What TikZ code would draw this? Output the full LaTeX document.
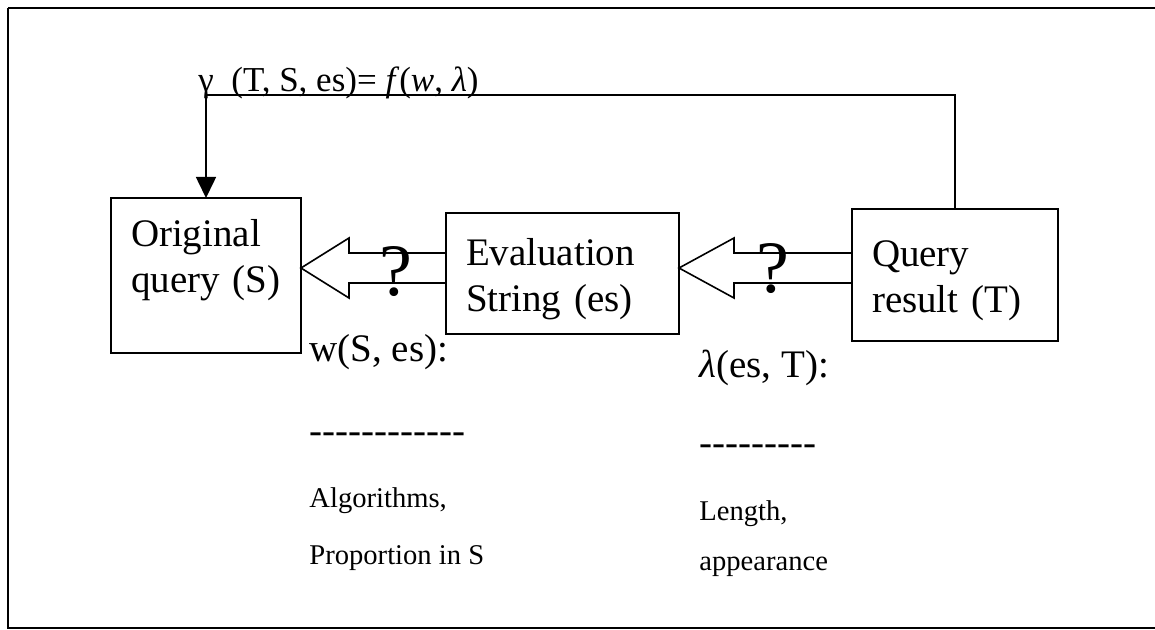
\documentclass[tikz,border=0pt]{standalone}
\usepackage{fontspec}
\setmainfont{Liberation Serif}
\usetikzlibrary{arrows.meta,calc}
\newcommand\dashrow[1]{\foreach\k in {1,...,#1}{\mbox{-}}}

\begin{document}
\begin{tikzpicture}[x=0.5pt,y=-0.5pt,
		box/.style={draw,line width=0.8pt,anchor=north west,align=left,inner xsep=10pt,inner ysep=0pt,outer sep=0pt,font=\fontsize{19.5}{23}\selectfont},
		hollow/.style={draw,line width=0.8pt,fill=white},
		qmark/.style={inner sep=0pt,font=\fontsize{37}{40}\selectfont},
		note/.style={anchor=base west,inner sep=0pt,font=\fontsize{19.5}{23}\selectfont},
		small/.style={anchor=base west,inner sep=0pt,font=\fontsize{14.3}{17}\selectfont}]
		\useasboundingbox (0,0) rectangle (1155,630);
		\draw[line width=1pt] (8,8) -- (1155,8);
		\draw[line width=1pt] (8,8) -- (8,628) -- (1155,628);
		
		\node[box,text width=75pt,text height=24.5pt,text depth=53pt] (orig) at (111,198) {Original\\query~(S)};
		\node[box,text width=96.5pt,text height=26.5pt,text depth=34pt] (eval) at (446,213) {Evaluation\\String~(es)};
		\node[box,text width=83pt,text height=29pt,text depth=37pt] (query) at (852,209) {Query\\result~(T)};
		
		\coordinate (fbtop) at (0,95);
		\draw[line width=0.8pt,-{Triangle[length=10.5pt,width=10pt]}] (query.north) -- (query.north |- fbtop) -| (orig.north);
		\node[note,font=\fontsize{17.5}{20}\selectfont] (gamma) at (198,92) {γ\ \ (T, S, es)= \textit{f}(\textit{w}, \textit{λ})};
		
		\coordinate (tipA) at (orig.east |- 0,268);
		\draw[hollow] (tipA) -- ++(48,-30) -- ++(0,15) -- (eval.west |- 0,253) -- (eval.west |- 0,283) -- ($(tipA)+(48,15)$) -- ++(0,15) -- cycle;
		\coordinate (tipB) at (eval.east |- 0,268);
		\draw[hollow] (tipB) -- ++(55,-30) -- ++(0,15) -- (query.west |- 0,253) -- (query.west |- 0,283) -- ($(tipB)+(55,15)$) -- ++(0,15) -- cycle;
		\node[qmark] (q1) at (396,272) {?};
		\node[qmark] (q2) at (773,269) {?};
		
		\node[note] (wlabel) at (309,362) {w(S, es):};
		\node[note] (wdash) at (309,443) {\dashrow{12}};
		\node[small] (walg) at (309,507) {Algorithms,};
		\node[small] (wprop) at (309,564) {Proportion in S};
		
		\node[note] (llabel) at (699,378) {\textit{λ}(es, T):};
		\node[note] (ldash) at (699,455) {\dashrow{9}};
		\node[small] (llen) at (699,520) {Length,};
		\node[small] (lapp) at (699,570) {appearance};
	\end{tikzpicture}
\end{document}
